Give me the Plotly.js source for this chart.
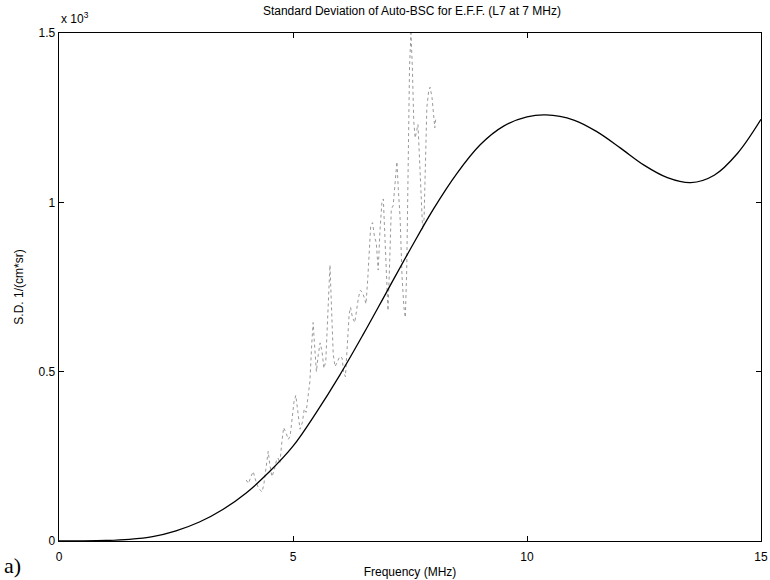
<!DOCTYPE html>
<html>
<head>
<meta charset="utf-8">
<script src="https://cdn.plot.ly/plotly-3.0.1.min.js"></script>
<style>
html,body{margin:0;padding:0;background:#fff;}
#chart{width:770px;height:580px;}
</style>
</head>
<body>
<div id="chart"></div>
<script>
// Smooth (theoretical) standard deviation curve, values in units of 1e-3
var fitFreq = [0, 0.5, 1, 1.5, 2, 2.5, 3, 3.5, 4, 4.5, 5, 5.5, 6, 6.5, 7, 7.5, 8, 8.5, 9, 9.5, 10, 10.4, 11, 11.5, 12, 12.5, 13, 13.5, 14, 14.5, 15];
var fitSD   = [0, 0.0003, 0.0015, 0.005, 0.013, 0.03, 0.056, 0.093, 0.142, 0.205, 0.28, 0.38, 0.49, 0.61, 0.735, 0.86, 0.98, 1.085, 1.17, 1.225, 1.252, 1.258, 1.243, 1.208, 1.16, 1.11, 1.073, 1.058, 1.08, 1.145, 1.245];

// Measured (noisy) standard deviation, values in units of 1e-3
var measFreq = [4.00, 4.05, 4.10, 4.15, 4.20, 4.25, 4.30, 4.34, 4.38, 4.42, 4.47, 4.50, 4.55, 4.60, 4.65, 4.68, 4.72, 4.76, 4.80, 4.85, 4.90, 4.94, 4.98, 5.02, 5.06, 5.10, 5.15, 5.20, 5.24, 5.28, 5.32, 5.36, 5.40, 5.43, 5.46, 5.50, 5.54, 5.58, 5.62, 5.66, 5.70, 5.75, 5.79, 5.82, 5.86, 5.90, 5.95, 6.00, 6.05, 6.08, 6.12, 6.16, 6.20, 6.23, 6.27, 6.32, 6.36, 6.40, 6.44, 6.48, 6.52, 6.56, 6.60, 6.63, 6.66, 6.70, 6.74, 6.78, 6.82, 6.86, 6.90, 6.93, 6.96, 7.00, 7.03, 7.06, 7.10, 7.14, 7.18, 7.22, 7.25, 7.29, 7.33, 7.37, 7.40, 7.43, 7.46, 7.49, 7.52, 7.55, 7.58, 7.61, 7.64, 7.67, 7.70, 7.74, 7.77, 7.80, 7.83, 7.86, 7.90, 7.93, 7.97, 8.00, 8.03, 8.05];
var measSD   = [0.18, 0.17, 0.19, 0.205, 0.18, 0.16, 0.15, 0.145, 0.17, 0.22, 0.265, 0.23, 0.19, 0.21, 0.24, 0.245, 0.23, 0.29, 0.335, 0.32, 0.30, 0.31, 0.36, 0.41, 0.43, 0.38, 0.33, 0.35, 0.39, 0.38, 0.42, 0.47, 0.58, 0.645, 0.58, 0.50, 0.55, 0.585, 0.56, 0.51, 0.53, 0.70, 0.815, 0.70, 0.55, 0.515, 0.53, 0.545, 0.54, 0.50, 0.485, 0.58, 0.67, 0.69, 0.66, 0.645, 0.68, 0.72, 0.74, 0.735, 0.72, 0.70, 0.78, 0.88, 0.93, 0.94, 0.90, 0.88, 0.80, 0.92, 1.00, 1.01, 0.90, 0.74, 0.68, 0.80, 0.98, 0.99, 1.05, 1.12, 1.04, 0.95, 0.78, 0.69, 0.66, 0.80, 1.10, 1.40, 1.50, 1.40, 1.24, 1.19, 1.21, 1.23, 1.14, 1.02, 0.92, 0.95, 1.15, 1.28, 1.33, 1.34, 1.31, 1.27, 1.22, 1.25];

var xTicks = [0, 5, 10, 15];
var yTicks = [0, 0.5, 1, 1.5];
var yTickText = ['0', '0.5', '1', '1.5'];

var titleText = 'Standard Deviation of Auto-BSC for E.F.F. (L7 at 7 MHz)';
var xTitle = 'Frequency (MHz)';
var yTitle = 'S.D. 1/(cm*sr)';
var exponentText = 'x 10<sup>3</sup>';
var panelLabel = 'a)';

var traces = [
  {
    x: measFreq, y: measSD, type: 'scatter', mode: 'lines',
    line: {color: '#999999', width: 1, dash: 'dot'},
    hoverinfo: 'skip', showlegend: false
  },
  {
    x: fitFreq, y: fitSD, type: 'scatter', mode: 'lines',
    line: {color: '#000000', width: 1.3, shape: 'spline', smoothing: 1},
    hoverinfo: 'skip', showlegend: false
  }
];

var fam = 'Liberation Sans, Arial, sans-serif';

var layout = {
  width: 770, height: 580,
  margin: {l: 59, r: 9, t: 33, b: 39},
  paper_bgcolor: '#fff', plot_bgcolor: '#fff',
  font: {family: fam, size: 12, color: '#000'},
  showlegend: false,
  title: {text: titleText, font: {family: fam, size: 12, color: '#000'}, x: 0.535, xanchor: 'center', y: 0.988, yanchor: 'top'},
  xaxis: {
    range: [0, 15], tickvals: xTicks, ticktext: xTicks.map(String),
    ticks: 'inside', ticklen: 5, tickcolor: '#000', tickwidth: 1,
    showline: true, linecolor: '#000', linewidth: 1.3, mirror: 'ticks',
    showgrid: false, zeroline: false, ticklabelstandoff: 4,
    tickfont: {family: fam, size: 12, color: '#000'},
    title: {text: xTitle, font: {family: fam, size: 12, color: '#000'}, standoff: 5}
  },
  yaxis: {
    range: [0, 1.5], tickvals: yTicks, ticktext: yTickText,
    ticks: 'inside', ticklen: 5, tickcolor: '#000', tickwidth: 1,
    showline: true, linecolor: '#000', linewidth: 1.3, mirror: 'ticks',
    showgrid: false, zeroline: false,
    tickfont: {family: fam, size: 12, color: '#000'},
    title: {text: yTitle, font: {family: fam, size: 12, color: '#000'}, standoff: 12}
  },
  annotations: [
    {text: exponentText, xref: 'paper', yref: 'paper', x: 0, y: 1, xanchor: 'left', yanchor: 'bottom',
     xshift: 0, yshift: 5, showarrow: false, font: {family: fam, size: 12, color: '#000'}},
    {text: panelLabel, xref: 'paper', yref: 'paper', x: 0, y: 0, xanchor: 'left', yanchor: 'top',
     xshift: -57, yshift: -10, showarrow: false, font: {family: 'Liberation Serif, Times New Roman, serif', size: 22, color: '#000'}}
  ]
};

Plotly.newPlot('chart', traces, layout, {staticPlot: true, displayModeBar: false});
</script>
</body>
</html>
